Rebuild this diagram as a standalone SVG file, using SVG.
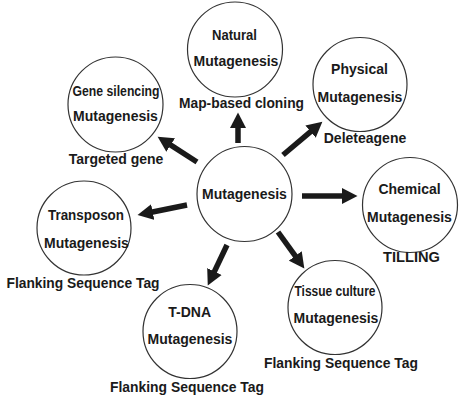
<svg xmlns="http://www.w3.org/2000/svg" width="463" height="403" viewBox="0 0 463 403">
<style>
  .c { fill: #fff; stroke: #333; stroke-width: 1.2; }
  text { font-family: "Liberation Sans", Arial, sans-serif; font-weight: bold; font-size: 14px; fill: #1a1a1a; text-anchor: middle; }
  .lbl { font-size: 14px; }
  .arr { stroke: #1a1a1a; stroke-width: 5.5; fill: none; marker-end: url(#ah); }
</style>
<defs>
  <marker id="ah" markerUnits="userSpaceOnUse" markerWidth="17" markerHeight="17" refX="4" refY="8.5" orient="auto">
    <path d="M0,0.5 L15.5,8.5 L0,16.5 z" fill="#1a1a1a"/>
  </marker>
</defs>
<rect width="463" height="403" fill="#fff"/>
<g id="connectors">
  <line class="arr" x1="197" y1="162" x2="167.3" y2="142.9"/>
  <line class="arr" x1="238" y1="143" x2="238" y2="124"/>
  <line class="arr" x1="283" y1="155" x2="313.6" y2="129.1"/>
  <line class="arr" x1="302" y1="196" x2="346" y2="196"/>
  <line class="arr" x1="187" y1="205" x2="148.8" y2="212.8"/>
  <line class="arr" x1="227" y1="245" x2="212.7" y2="275.1"/>
  <line class="arr" x1="278" y1="232" x2="297.6" y2="259.1"/>
</g>
<g id="center">
  <circle class="c" cx="244.5" cy="194" r="47.5"/>
  <text x="244.5" y="198.5">Mutagenesis</text>
</g>
<g id="natural">
  <circle class="c" cx="235" cy="49.5" r="47.5"/>
  <text x="234.5" y="39.5" textLength="45" lengthAdjust="spacingAndGlyphs">Natural</text>
  <text x="236" y="65.5">Mutagenesis</text>
  <text class="lbl" x="241.5" y="108" textLength="125" lengthAdjust="spacingAndGlyphs">Map-based cloning</text>
</g>
<g id="gene-silencing">
  <circle class="c" cx="115.5" cy="104.5" r="47.5"/>
  <text x="116" y="96" textLength="87" lengthAdjust="spacingAndGlyphs">Gene silencing</text>
  <text x="115.5" y="121">Mutagenesis</text>
  <text class="lbl" x="116" y="164">Targeted gene</text>
</g>
<g id="physical">
  <circle class="c" cx="360" cy="84.5" r="47"/>
  <text x="359.5" y="74">Physical</text>
  <text x="360" y="101.5">Mutagenesis</text>
  <text class="lbl" x="365" y="143">Deleteagene</text>
</g>
<g id="chemical">
  <circle class="c" cx="410" cy="205" r="47.5"/>
  <text x="409.5" y="194">Chemical</text>
  <text x="409.5" y="222">Mutagenesis</text>
  <text class="lbl" x="411.5" y="262" textLength="57" lengthAdjust="spacingAndGlyphs">TILLING</text>
</g>
<g id="transposon">
  <circle class="c" cx="84" cy="228" r="47"/>
  <text x="86" y="220" textLength="76" lengthAdjust="spacingAndGlyphs">Transposon</text>
  <text x="86.5" y="248">Mutagenesis</text>
  <text class="lbl" x="83" y="288" textLength="153" lengthAdjust="spacingAndGlyphs">Flanking Sequence Tag</text>
</g>
<g id="t-dna">
  <circle class="c" cx="190" cy="331.5" r="47"/>
  <text x="189.7" y="316.5">T-DNA</text>
  <text x="190" y="344">Mutagenesis</text>
  <text class="lbl" x="187" y="391.5" textLength="154" lengthAdjust="spacingAndGlyphs">Flanking Sequence Tag</text>
</g>
<g id="tissue-culture">
  <circle class="c" cx="335" cy="307.5" r="47"/>
  <text x="335" y="296" textLength="81" lengthAdjust="spacingAndGlyphs">Tissue culture</text>
  <text x="336" y="322.5">Mutagenesis</text>
  <text class="lbl" x="341" y="367.5" textLength="154" lengthAdjust="spacingAndGlyphs">Flanking Sequence Tag</text>
</g>
</svg>
